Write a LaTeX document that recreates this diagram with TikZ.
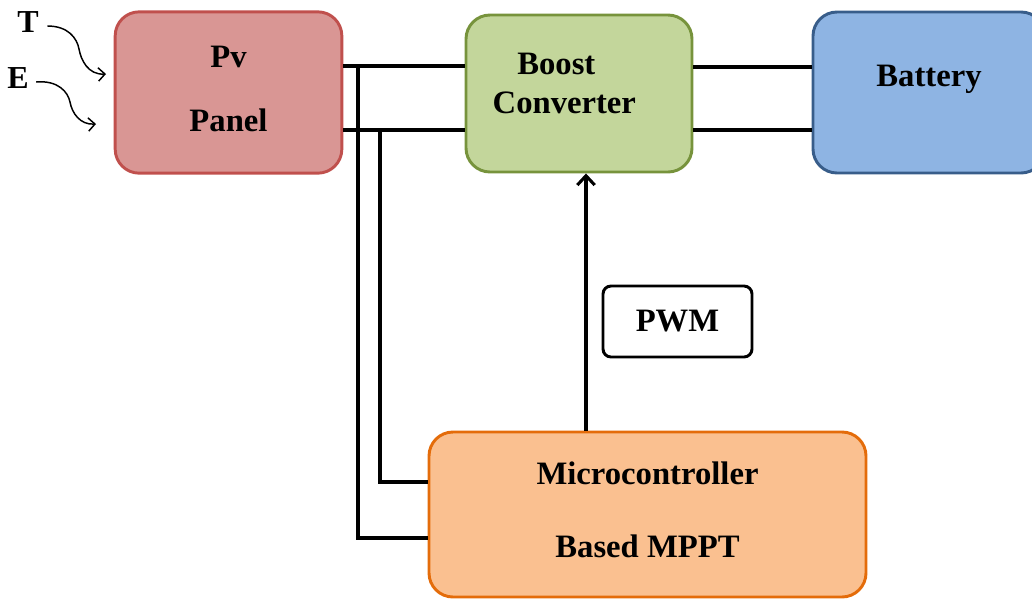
\documentclass[tikz,border=0pt]{standalone}
\usepackage{fontspec}
\setmainfont{Liberation Serif}
\usetikzlibrary{arrows.meta}
\definecolor{panel}{RGB}{217,150,148}
\definecolor{panelline}{RGB}{192,80,77}
\definecolor{boost}{RGB}{195,214,155}
\definecolor{boostline}{RGB}{119,147,60}
\definecolor{battery}{RGB}{142,180,227}
\definecolor{batteryline}{RGB}{56,93,138}
\definecolor{mppt}{RGB}{250,192,144}
\definecolor{mpptline}{RGB}{228,108,10}
\tikzstyle{block}=[rounded corners=18pt, line width=2.2pt, align=center, font=\fontsize{24.5}{29}\selectfont\bfseries]
\tikzset{wire/.style={line width=2.3pt}}
\tikzset{heat/.style={-{Straight Barb[length=5pt,width=10pt]}, line width=1.1pt}}
\tikzset{factor/.style={font=\fontsize{24}{29}\selectfont\bfseries}}

\begin{document}
\begin{tikzpicture}[x=0.75pt,y=-0.75pt]
  \useasboundingbox (0,0) rectangle (1032,600);
  \draw (228.5,92.5) node[block,fill=panel,draw=panelline,minimum width=170pt,minimum height=121pt,text depth=6pt] (pv) {Pv\\[19pt]Panel};
  \draw (579,93.5) node[block,fill=boost,draw=boostline,minimum width=169.5pt,minimum height=117.75pt,text depth=15pt] (boost) {Boost\hspace*{34pt}\\Converter\hspace*{22pt}};
  \draw (929,92.5) node[block,fill=battery,draw=batteryline,minimum width=174pt,minimum height=120.75pt,text depth=25pt] (battery) {Battery};
  \draw (647.5,514.5) node[block,fill=mppt,draw=mpptline,minimum width=327.75pt,minimum height=123.75pt,text depth=7pt] (micro) {Microcontroller\\[26pt]Based MPPT};
  \draw (677.5,321.5) node[block,rounded corners=6pt,fill=white,draw=black,minimum width=111.75pt,minimum height=53.25pt] (pwm) {PWM};

  \draw (28,22) node[factor] (T) {T};
  \draw (18,78) node[factor] (E) {E};

  %% wires
  \coordinate (j1) at (358,66);
  \coordinate (j2) at (380,130);
  \coordinate (b1) at (700,67);
  \coordinate (m1) at (0,482);
  \coordinate (m2) at (0,538);
  \coordinate (pwmline) at (586,0);
  \draw[wire] (pv.east |- j1) -- (boost.west |- j1);
  \draw[wire] (pv.east |- j2) -- (boost.west |- j2);
  \draw[wire] (boost.east |- b1) -- (battery.west |- b1);
  \draw[wire] (boost.east |- j2) -- (battery.west |- j2);
  \draw[wire] (j1) |- (micro.west |- m2);
  \draw[wire] (j2) |- (micro.west |- m1);
  \draw[wire,-{Straight Barb[length=7pt,width=13pt]}] (pwmline |- micro.north) -- (pwmline |- boost.south);

  %% inputs
  \coordinate (tin) at (106,74);
  \coordinate (ein) at (96,124);
  \draw[heat] ([xshift=3pt,yshift=-3pt]T.east) .. controls (68,26) and (77,38) .. (79,49)
    .. controls (81,60) and (88,75) .. (tin);
  \draw[heat] ([xshift=2pt,yshift=-3pt]E.east) .. controls (58,80) and (68,92) .. (70,102)
    .. controls (72,113) and (80,125) .. (ein);
\end{tikzpicture}
\end{document}
